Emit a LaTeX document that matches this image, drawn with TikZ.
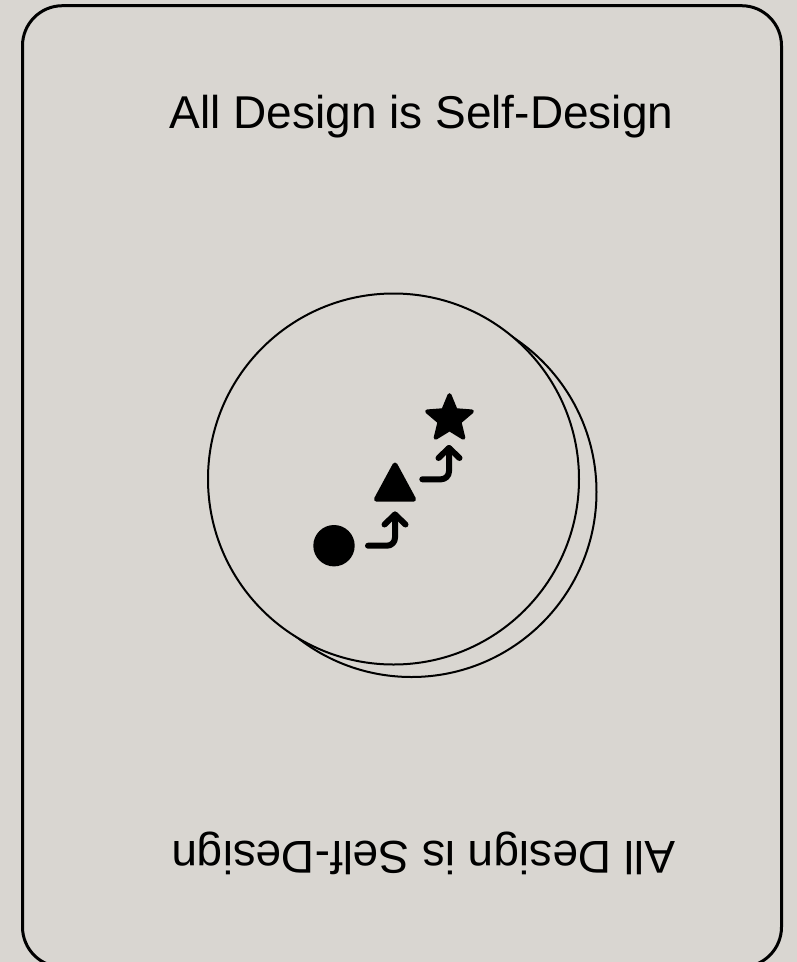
\documentclass[tikz,border=0pt]{standalone}
\usepackage{fontspec}
\setmainfont{Liberation Sans}
\usetikzlibrary{calc}
\definecolor{bg}{RGB}{217,214,209}
\begin{document}
\begin{tikzpicture}[x=1pt,y=-1pt,
  frame/.style={line width=3pt, rounded corners=40pt},
  ring/.style={line width=2pt},
  glyph/.style={fill=black, draw=black, line join=round},
  arr/.style={line width=6pt, line cap=round, line join=round, rounded corners=8pt},
  chev/.style={line width=6pt, line cap=round, line join=round},
  title/.style={font=\fontsize{46}{50}\selectfont, inner sep=0pt, anchor=base}]
\fill[bg] (0,0) rectangle (797,962);
\useasboundingbox (0,0) rectangle (797,962);
\draw[frame] (22.5,5.7) rectangle (781.5,967);
% circles
\draw[ring] (411.5,492) circle (185);
\draw[ring, fill=bg] (393.5,479) circle (185.5);
% texts
\node[title] (toptext) at (421.5,128.3) {All Design is Self-Design};
\node[title, rotate=180] (bottomtext) at (423.5,841.7) {All Design is Self-Design};
% dot
\node[circle, fill=black, minimum size=41.4pt, inner sep=0pt] (dot) at (334,545.7) {};
% triangle
\draw[glyph, line width=5pt] (395,465) -- (413.5,499.2) -- (376.5,499.2) -- cycle;
% star
\coordinate (sc) at (449.5,418.7);
\draw[glyph, line width=4pt] 
  ($(sc)+(-90:23.5)$) -- ($(sc)+(-54:10.5)$) --
  ($(sc)+(-18:23.5)$) -- ($(sc)+(18:10.5)$) --
  ($(sc)+(54:23.5)$) -- ($(sc)+(90:10.5)$) --
  ($(sc)+(126:23.5)$) -- ($(sc)+(162:10.5)$) --
  ($(sc)+(198:23.5)$) -- ($(sc)+(234:10.5)$) -- cycle;
% arrows
\coordinate (a1s) at (368,545.7);
\coordinate (a1t) at (395,514.5);
\draw[arr] (a1s) -| (a1t);
\draw[chev] ($(a1t)+(-10.5,10)$) -- (a1t) -- ($(a1t)+(10.5,10)$);
\coordinate (a2s) at (422.3,479.3);
\coordinate (a2t) at (449,448);
\draw[arr] (a2s) -| (a2t);
\draw[chev] ($(a2t)+(-10.5,10)$) -- (a2t) -- ($(a2t)+(10.5,10)$);
\end{tikzpicture}
\end{document}
